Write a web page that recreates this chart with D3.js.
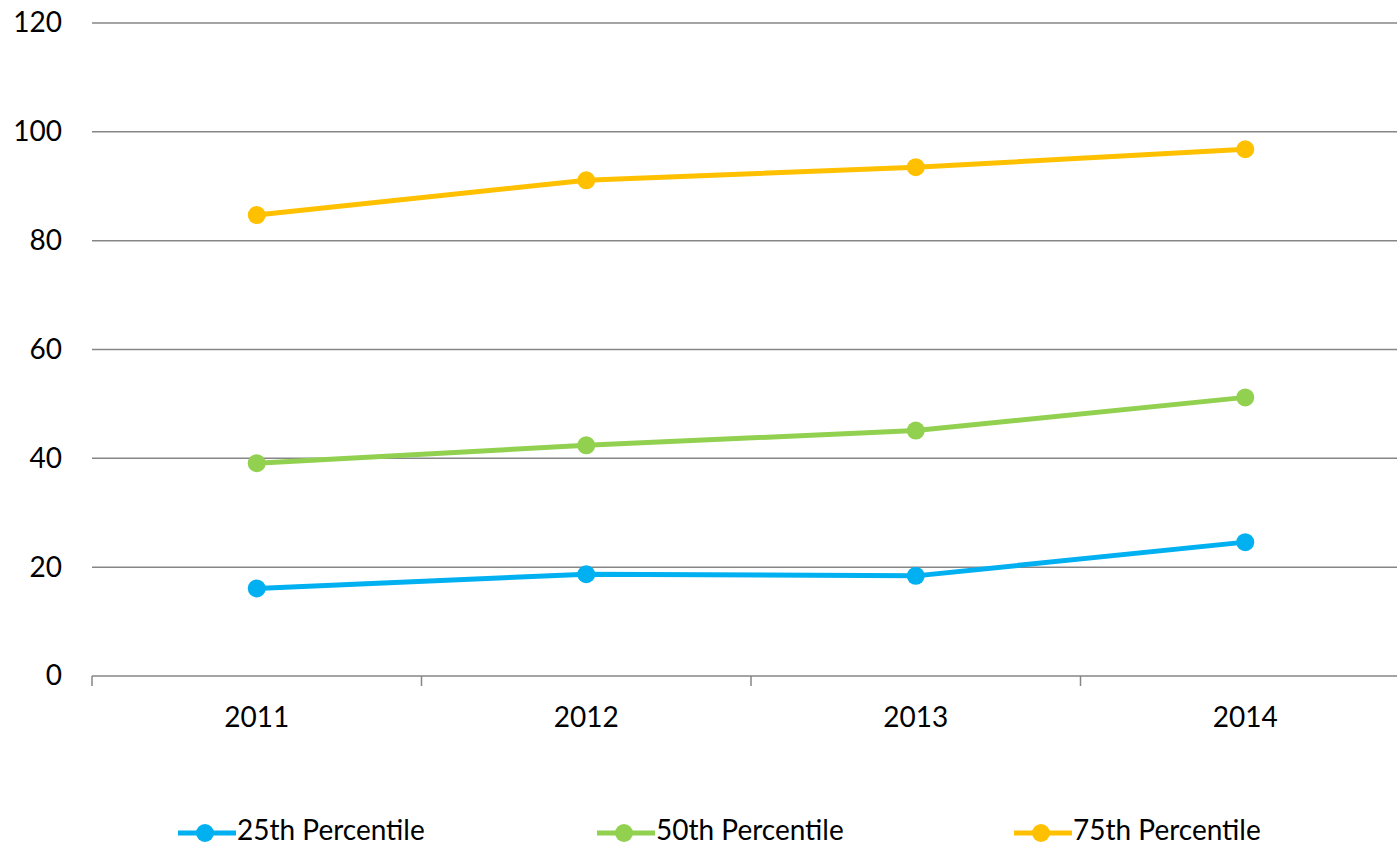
<!DOCTYPE html>
<html>
<head>
<meta charset="utf-8">
<script src="https://cdn.jsdelivr.net/npm/d3@7"></script>
<style>
  html, body { margin: 0; padding: 0; background: #fff; overflow: hidden; }
  svg { display: block; font-family: Lato, "Open Sans", sans-serif; }
</style>
</head>
<body>
<svg id="chart" width="1397" height="847"></svg>
<script>
// Yearly percentile values
const years = ["2011", "2012", "2013", "2014"];
const p25 = [16.1, 18.7, 18.4, 24.6];
const p50 = [39.1, 42.4, 45.1, 51.2];
const p75 = [84.7, 91.1, 93.5, 96.8];
const yTicks = [0, 20, 40, 60, 80, 100, 120];
const seriesNames = ["25th Percentile", "50th Percentile", "75th Percentile"];
const seriesColors = ["#00B0F0", "#92D050", "#FFC000"];

const series = [p25, p50, p75].map((values, i) => ({
  name: seriesNames[i], color: seriesColors[i], values
}));

const svg = d3.select("#chart");
const W = 1397;
const fontSize = 28;
const plotLeft = 92, plotRight = 1410, plotTop = 23, plotBottom = 676;

const x = d3.scaleBand().domain(years).range([plotLeft, plotRight]);
const y = d3.scaleLinear().domain([0, 120]).range([plotBottom, plotTop]);

// Horizontal gridlines
svg.append("g")
  .selectAll("line")
  .data(yTicks.filter(d => d > 0))
  .join("line")
  .attr("x1", plotLeft).attr("x2", W)
  .attr("y1", d => y(d)).attr("y2", d => y(d))
  .attr("stroke", "#868686").attr("stroke-width", 1.5);

// Y axis labels
const yAxis = d3.axisLeft(y).tickValues(yTicks).tickSize(0).tickPadding(30);
svg.append("g")
  .attr("transform", `translate(${plotLeft},0)`)
  .call(yAxis)
  .call(g => g.select(".domain").remove())
  .call(g => g.selectAll("text")
    .attr("font-size", fontSize).attr("fill", "#000")
    .attr("font-family", "Lato, 'Open Sans', sans-serif"));

// X axis with category boundary ticks
const xg = svg.append("g").attr("transform", `translate(0,${plotBottom})`);
xg.append("line")
  .attr("x1", plotLeft).attr("x2", W)
  .attr("stroke", "#868686").attr("stroke-width", 1.5);
xg.selectAll("line.tick")
  .data(years)
  .join("line")
  .attr("class", "tick")
  .attr("x1", d => x(d)).attr("x2", d => x(d))
  .attr("y1", 0).attr("y2", 10)
  .attr("stroke", "#868686").attr("stroke-width", 1.5);
xg.selectAll("text")
  .data(years)
  .join("text")
  .attr("x", d => x(d) + x.bandwidth() / 2)
  .attr("y", 51)
  .attr("text-anchor", "middle")
  .attr("font-size", fontSize)
  .attr("fill", "#000")
  .text(d => d);

// Lines and markers
const line = d3.line()
  .x((d, i) => x(years[i]) + x.bandwidth() / 2)
  .y(d => y(d));

const sg = svg.append("g").selectAll("g").data(series).join("g");
sg.append("path")
  .attr("d", d => line(d.values))
  .attr("fill", "none")
  .attr("stroke", d => d.color)
  .attr("stroke-width", 5)
  .attr("stroke-linejoin", "round");
sg.selectAll("circle")
  .data(d => d.values.map((v, i) => ({ v, i, color: d.color })))
  .join("circle")
  .attr("cx", d => x(years[d.i]) + x.bandwidth() / 2)
  .attr("cy", d => y(d.v))
  .attr("r", 9)
  .attr("fill", d => d.color);

// Legend
const legendX = [178, 597, 1014];
const lg = svg.append("g").selectAll("g").data(series).join("g")
  .attr("transform", (d, i) => `translate(${legendX[i]},833)`);
lg.append("line")
  .attr("x1", 0).attr("x2", 58)
  .attr("stroke", d => d.color).attr("stroke-width", 5);
lg.append("circle")
  .attr("cx", 27).attr("r", 9)
  .attr("fill", d => d.color);
lg.append("text")
  .attr("x", 59).attr("y", 7)
  .attr("font-size", fontSize)
  .attr("fill", "#000")
  .text(d => d.name);
</script>
</body>
</html>
